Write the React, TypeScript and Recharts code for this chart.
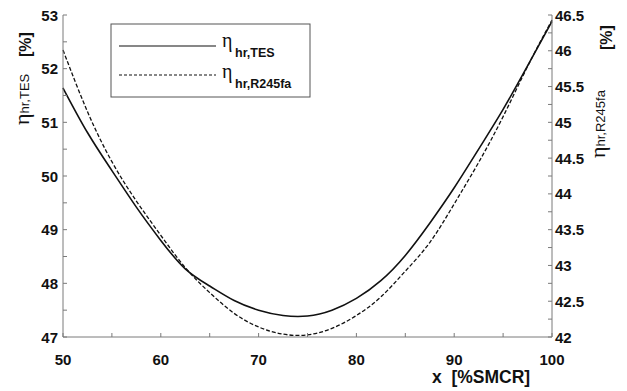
import React from 'react';
import { LineChart, Line, XAxis, YAxis } from 'recharts';

const W = 627;
const H = 391;
const FONT = '"Liberation Sans", Arial, sans-serif';
const GREEK = '"Liberation Serif", "DejaVu Serif", serif';

// plot frame
const PL = 63;
const PR = 552;
const PT = 15;
const PB = 337;

// x in %SMCR
const xLoad = [50, 52.5, 55, 57.5, 60, 62.5, 65, 67.5, 70, 72.5, 75, 77.5, 80, 82.5, 85, 87.5, 90, 92.5, 95, 97.5, 100];
// eta_hr,TES [%] (left axis)
const etaTES = [51.64, 50.81, 50.1, 49.42, 48.8, 48.27, 47.95, 47.68, 47.5, 47.4, 47.39, 47.5, 47.72, 48.05, 48.52, 49.12, 49.78, 50.5, 51.24, 52.05, 52.88];
// eta_hr,R245fa [%] (right axis)
const etaR245fa = [46.01, 45.15, 44.45, 43.9, 43.42, 42.97, 42.62, 42.33, 42.14, 42.04, 42.03, 42.12, 42.3, 42.56, 42.92, 43.32, 43.86, 44.44, 45.08, 45.78, 46.43];

const xTicks = [50, 55, 60, 65, 70, 75, 80, 85, 90, 95, 100];
const leftTicks = [47, 47.5, 48, 48.5, 49, 49.5, 50, 50.5, 51, 51.5, 52, 52.5, 53];
const rightTicks = [42, 42.25, 42.5, 42.75, 43, 43.25, 43.5, 43.75, 44, 44.25, 44.5, 44.75, 45, 45.25, 45.5, 45.75, 46, 46.25, 46.5];

const data = xLoad.map((x, i) => ({ x, tes: etaTES[i], r245: etaR245fa[i] }));

const axisGray = '#7a7a7a';
const TICK_LEN = 4;

const labelStyle = { fill: '#111', fontSize: '15px', fontWeight: 'bold', fontFamily: FONT } as const;

// inward tick marks, labels only on the major values
const BottomTick = (props: any) => {
  const c = props.payload.coordinate;
  const v = props.payload.value;
  return (
    <g>
      <line x1={c} x2={c} y1={PB} y2={PB - TICK_LEN} stroke={axisGray} strokeWidth={1} />
      {v % 10 === 0 && (
        <text x={c} y={365} textAnchor="middle" style={labelStyle}>{String(v)}</text>
      )}
    </g>
  );
};

const TopTick = (props: any) => {
  const c = props.payload.coordinate;
  return <line x1={c} x2={c} y1={PT} y2={PT + TICK_LEN} stroke={axisGray} strokeWidth={1} />;
};

const LeftTick = (props: any) => {
  const c = props.payload.coordinate;
  const v = props.payload.value;
  return (
    <g>
      <line x1={PL} x2={PL + TICK_LEN} y1={c} y2={c} stroke={axisGray} strokeWidth={1} />
      {Number.isInteger(v) && (
        <text x={58} y={c + 5.5} textAnchor="end" style={labelStyle}>{String(v)}</text>
      )}
    </g>
  );
};

const RightTick = (props: any) => {
  const c = props.payload.coordinate;
  const v = props.payload.value;
  return (
    <g>
      <line x1={PR} x2={PR - TICK_LEN} y1={c} y2={c} stroke={axisGray} strokeWidth={1} />
      {(v * 2) % 1 === 0 && (
        <text x={555} y={c + 5.5} textAnchor="start" style={labelStyle}>{String(v)}</text>
      )}
    </g>
  );
};

export default function App() {
  return (
    <div style={{ position: 'absolute', left: 0, top: 0, width: W, height: H, background: '#fff' }}>
      <LineChart width={W} height={H} data={data} margin={{ top: PT, right: 0, bottom: 0, left: 0 }}>
        <XAxis
          dataKey="x"
          type="number"
          domain={[50, 100]}
          ticks={xTicks}
          interval={0}
          height={H - PB}
          tick={(p: any) => <BottomTick {...p} />}
          tickLine={false}
          axisLine={{ stroke: axisGray }}
        />
        <XAxis
          xAxisId="top"
          orientation="top"
          dataKey="x"
          type="number"
          domain={[50, 100]}
          ticks={xTicks}
          interval={0}
          height={0}
          tick={(p: any) => <TopTick {...p} />}
          tickLine={false}
          axisLine={{ stroke: axisGray }}
        />
        <YAxis
          yAxisId="left"
          orientation="left"
          type="number"
          domain={[47, 53]}
          ticks={leftTicks}
          interval={0}
          width={PL}
          tick={(p: any) => <LeftTick {...p} />}
          tickLine={false}
          axisLine={{ stroke: axisGray }}
        />
        <YAxis
          yAxisId="right"
          orientation="right"
          type="number"
          domain={[42, 46.5]}
          ticks={rightTicks}
          interval={0}
          width={W - PR}
          tick={(p: any) => <RightTick {...p} />}
          tickLine={false}
          axisLine={{ stroke: axisGray }}
        />
        <Line
          yAxisId="left"
          dataKey="tes"
          type="natural"
          stroke="#111"
          strokeWidth={1.6}
          dot={false}
          isAnimationActive={false}
        />
        <Line
          yAxisId="right"
          dataKey="r245"
          type="natural"
          stroke="#111"
          strokeWidth={1.3}
          strokeDasharray="4 2"
          dot={false}
          isAnimationActive={false}
        />
      </LineChart>

      {/* legend and axis titles */}
      <svg width={W} height={H} style={{ position: 'absolute', left: 0, top: 0, pointerEvents: 'none' }}>
        <rect x={111} y={24} width={199} height={73} fill="#fff" stroke="#555" strokeWidth={1} />
        <line x1={119} x2={216} y1={46} y2={46} stroke="#111" strokeWidth={1.2} />
        <line x1={119} x2={216} y1={75} y2={75} stroke="#111" strokeWidth={1.2} strokeDasharray="3 2" />
        <text x={222} y={47} fontFamily={GREEK} fontSize={20} fill="#111">η</text>
        <text x={235} y={56.5} fontFamily={FONT} fontSize={12.5} fontWeight={700} fill="#111">hr,TES</text>
        <text x={222} y={78} fontFamily={GREEK} fontSize={20} fill="#111">η</text>
        <text x={235} y={88} fontFamily={FONT} fontSize={12.5} fontWeight={700} fill="#111">hr,R245fa</text>

        <g transform="translate(29,125) rotate(-90)">
          <text x={0} y={0} fill="#111">
            <tspan fontFamily={GREEK} fontSize={22}>η</tspan>
            <tspan fontFamily={FONT} fontSize={13}>hr,TES</tspan>
          </text>
        </g>
        <g transform="translate(31,57) rotate(-90)">
          <text x={0} y={0} fill="#111" fontFamily={FONT} fontSize={16} fontWeight={700}>[%]</text>
        </g>

        <g transform="translate(605,158) rotate(-90)">
          <text x={0} y={0} fill="#111">
            <tspan fontFamily={GREEK} fontSize={22}>η</tspan>
            <tspan fontFamily={FONT} fontSize={13}>hr,R245fa</tspan>
          </text>
        </g>
        <g transform="translate(612,50) rotate(-90)">
          <text x={0} y={0} fill="#111" fontFamily={FONT} fontSize={16} fontWeight={700}>[%]</text>
        </g>

        <text x={432} y={383} fontFamily={FONT} fontSize={17.5} fontWeight={700} fill="#111" xmlSpace="preserve">
          x  [%SMCR]
        </text>
      </svg>
    </div>
  );
}
